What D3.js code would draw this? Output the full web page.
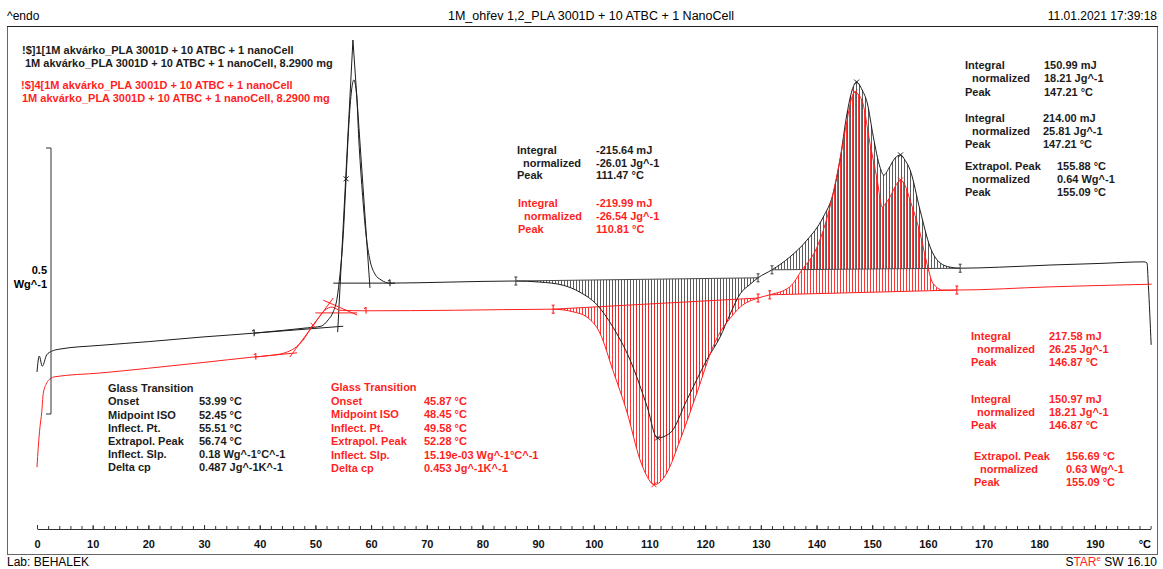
<!DOCTYPE html>
<html><head><meta charset="utf-8">
<script src="https://cdn.jsdelivr.net/npm/d3@7"></script>
<style>
body{margin:0;background:#fff;}
svg{display:block;font-family:"Liberation Sans",Arial,Helvetica,sans-serif;}
</style></head><body>
<svg id="chart" width="1163" height="569"></svg>
<script>
// ---- DSC heating run: temperature (°C) and normalized heat flow (W/g, endo up) ----
const tempBlack = [0.0,0.4,0.95,1.74,2.64,4.1,11.3,20,30,39,44,48.6,51.0,52.3,53.2,53.9,54.4,55.0,55.5,56.0,56.5,56.9,57.4,57.8,58.4,59.1,59.8,60.7,61.8,63.4,74.2,86.0,90.3,94.5,97.5,100.6,103.4,106.5,109.6,111.4,113.7,116.7,120.3,122.7,124.5,126.3,128.1,129.5,132.0,135.2,138.3,141.2,143.0,144.2,145.5,146.4,147.2,148.2,149.1,150.2,151.4,152.1,153.0,154.1,155.1,155.9,156.8,158.6,160.4,162.2,164.0,165.8,172.9,181.9,190.9,198.8,199.35,199.6,200.1];
const hfBlack = [0.079,0.109,0.090,0.111,0.118,0.122,0.129,0.136,0.145,0.152,0.157,0.162,0.165,0.177,0.192,0.218,0.261,0.336,0.440,0.543,0.609,0.628,0.600,0.515,0.421,0.336,0.289,0.263,0.252,0.246,0.248,0.250,0.248,0.242,0.229,0.205,0.164,0.102,0.013,-0.045,-0.036,0.026,0.102,0.145,0.188,0.226,0.244,0.256,0.271,0.295,0.327,0.370,0.415,0.477,0.566,0.609,0.624,0.609,0.585,0.521,0.464,0.449,0.462,0.481,0.487,0.477,0.459,0.383,0.314,0.284,0.276,0.274,0.276,0.280,0.283,0.286,0.284,0.242,0.130];

const tempRed = [0.0,0.23,0.54,0.84,1.13,1.74,2.33,3.23,11.3,20,30,38.8,41.8,44.5,46.3,47.8,49.0,50.5,51.7,53.0,54.4,59.1,75,92.7,96.3,98.8,101.1,103.4,106.0,108.3,109.6,110.8,111.9,113.1,115.5,118.5,121.4,122.7,124.5,126.3,129.5,131.6,135.2,137.4,140.1,142.4,144.2,145.5,146.2,146.9,147.6,148.3,149.6,150.9,151.8,152.5,153.2,154.1,155.1,155.9,156.8,158.6,159.8,160.9,162.7,165.2,181.9,200.2];
const hfRed = [-0.100,-0.062,-0.024,0.002,0.039,0.058,0.066,0.070,0.077,0.086,0.097,0.107,0.110,0.115,0.124,0.139,0.158,0.180,0.195,0.201,0.195,0.194,0.195,0.197,0.192,0.182,0.152,0.083,0.002,-0.086,-0.118,-0.133,-0.128,-0.111,-0.049,0.039,0.126,0.154,0.180,0.201,0.218,0.224,0.239,0.271,0.314,0.389,0.477,0.553,0.590,0.605,0.600,0.585,0.509,0.440,0.389,0.397,0.408,0.427,0.440,0.430,0.402,0.340,0.284,0.246,0.233,0.233,0.239,0.244];

// integration limits (°C)
const intBlack = [[86.0,129.5],[132.0,165.8]];
const intRed = [[92.7,129.5],[131.6,165.2]];
// evaluated peak temperatures (°C)
const peaksBlack = [111.47,147.21,155.09];
const peaksRed = [110.81,146.87,155.09];
// glass transition evaluation limits and inflection points (°C)
const tgLimitsBlack = [39.0,63.4];
const tgLimitsRed = [39.3,59.1];
const inflectBlack = 55.51, inflectRed = 49.58;
// glass transition construction lines [T1, v1, T2, v2]
const tgLinesBlack = [[39.0,0.152,55.0,0.165],[53.2,0.246,64.3,0.246],[54.0,0.154,56.74,0.703],[56.74,0.703,59.8,0.237]];
const tgLinesRed = [[39.0,0.107,46.7,0.115],[45.4,0.107,53.2,0.218],[51.4,0.214,57.5,0.186],[50.0,0.190,57.5,0.190]];

const xTickLabels = [0,10,20,30,40,50,60,70,80,90,100,110,120,130,140,150,160,170,180,190];
const xMinorTicks = d3.range(0,201,2);

// text content
const headerLeft = "^endo";
const headerTitle = "1M_ohřev 1,2_PLA 3001D + 10 ATBC + 1 NanoCell";
const headerDate = "11.01.2021 17:39:18";
const legendBlack = ["!$]1[1M akvárko_PLA 3001D + 10 ATBC + 1 nanoCell","1M akvárko_PLA 3001D + 10 ATBC + 1 nanoCell, 8.2900 mg"];
const legendRed = ["!$]4[1M akvárko_PLA 3001D + 10 ATBC + 1 nanoCell","1M akvárko_PLA 3001D + 10 ATBC + 1 nanoCell, 8.2900 mg"];
const intLabels = ["Integral","normalized","Peak"];
const extLabels = ["Extrapol. Peak","normalized","Peak"];
const crystBlackVals = ["-215.64 mJ","-26.01 Jg^-1","111.47 °C"];
const crystRedVals = ["-219.99 mJ","-26.54 Jg^-1","110.81 °C"];
const meltBlackVals1 = ["150.99 mJ","18.21 Jg^-1","147.21 °C"];
const meltBlackVals2 = ["214.00 mJ","25.81 Jg^-1","147.21 °C"];
const meltBlackExt = ["155.88 °C","0.64 Wg^-1","155.09 °C"];
const meltRedVals1 = ["217.58 mJ","26.25 Jg^-1","146.87 °C"];
const meltRedVals2 = ["150.97 mJ","18.21 Jg^-1","146.87 °C"];
const meltRedExt = ["156.69 °C","0.63 Wg^-1","155.09 °C"];
const gtLabels = ["Glass Transition","Onset","Midpoint ISO","Inflect. Pt.","Extrapol. Peak","Inflect. Slp.","Delta cp"];
const gtBlackVals = ["","53.99 °C","52.45 °C","55.51 °C","56.74 °C","0.18 Wg^-1°C^-1","0.487 Jg^-1K^-1"];
const gtRedVals = ["","45.87 °C","48.45 °C","49.58 °C","52.28 °C","15.19e-03 Wg^-1°C^-1","0.453 Jg^-1K^-1"];

// ---- drawing ----
const RED = "#ff1f1f", BLK = "#1c1c1c";
const svg = d3.select("#chart");
const x = d3.scaleLinear().domain([0,200]).range([37,1150.6]);
const y = d3.scaleLinear().domain([0,0.5]).range([414,148]);

// frame
svg.append("rect").attr("x",7.5).attr("y",26.5).attr("width",1150).attr("height",528)
  .attr("fill","none").attr("stroke","#666").attr("stroke-width",1);
svg.append("line").attr("x1",7).attr("x2",1158).attr("y1",26.5).attr("y2",26.5).attr("stroke","#222");

// header / footer
svg.append("text").attr("x",7).attr("y",20).attr("font-size",12).text(headerLeft);
svg.append("text").attr("x",591).attr("y",20).attr("font-size",12.5).attr("text-anchor","middle").text(headerTitle);
svg.append("text").attr("x",1157).attr("y",20).attr("font-size",12).attr("text-anchor","end").text(headerDate);
svg.append("text").attr("x",7).attr("y",566).attr("font-size",12).text("Lab: BEHALEK");
const star = svg.append("text").attr("x",1157).attr("y",566).attr("font-size",12).attr("text-anchor","end");
star.append("tspan").text("S");
star.append("tspan").attr("fill",RED).text("TAR");
star.append("tspan").attr("fill",RED).attr("font-size",8).attr("dy",-5).text("e");
star.append("tspan").attr("dy",5).text(" SW 16.10");

const gHatch = svg.append("g");
const gLines = svg.append("g");
const gCurves = svg.append("g");
const gMarks = svg.append("g");

const lineGen = d3.line().x(d=>x(d[0])).y(d=>y(d[1])).curve(d3.curveMonotoneX);

function drawCurve(T, V, color){
  const pts = T.map((t,i)=>[t,V[i]]);
  const p = gCurves.append("path").datum(pts).attr("d",lineGen)
    .attr("fill","none").attr("stroke",color).attr("stroke-width",1);
  const node = p.node(), L = node.getTotalLength(), s = [];
  for(let l=0;l<=L;l+=0.5){ const q=node.getPointAtLength(l); s.push({x:q.x,y:q.y}); }
  const bis = d3.bisector(d=>d.x).left;
  return px => {
    const i = bis(s,px);
    if(i<=0) return s[0].y;
    if(i>=s.length) return s[s.length-1].y;
    const a=s[i-1], b=s[i], t=(px-a.x)/((b.x-a.x)||1);
    return a.y+(b.y-a.y)*t;
  };
}
const yAtBlack = drawCurve(tempBlack,hfBlack,BLK);
const yAtRed = drawCurve(tempRed,hfRed,RED);

// vertical hatching between the curve and the straight integration baseline
function hatch(yAt, ranges, color, offset, width){
  ranges.forEach(([t1,t2])=>{
    const x1=x(t1), x2=x(t2), yb1=yAt(x1), yb2=yAt(x2);
    const start = Math.ceil(x1) + offset + 0.5;
    for(let px=start; px<x2; px+=3){
      const yb = yb1+(yb2-yb1)*(px-x1)/(x2-x1);
      gHatch.append("line").attr("x1",px).attr("x2",px).attr("y1",yb).attr("y2",yAt(px))
        .attr("stroke",color).attr("stroke-width",width);
    }
    gLines.append("line").attr("x1",x1).attr("x2",x2).attr("y1",yb1).attr("y2",yb2)
      .attr("stroke",color).attr("stroke-width",1);
    [[x1,yb1],[x2,yb2]].forEach(([mx,my])=>{
      const m = gMarks.append("g").attr("stroke",color).attr("stroke-width",1.1);
      m.append("line").attr("x1",mx).attr("x2",mx).attr("y1",my-4).attr("y2",my+4);
      m.append("line").attr("x1",mx-1.5).attr("x2",mx+1.5).attr("y1",my-4).attr("y2",my-4);
      m.append("line").attr("x1",mx-1.5).attr("x2",mx+1.5).attr("y1",my+4).attr("y2",my+4);
    });
  });
}
hatch(yAtBlack,intBlack,"#4a4a4a",0,0.9);
hatch(yAtRed,intRed,RED,1,0.9);

function cross(T, yAt, color){
  const px=x(T), py=yAt(px);
  gMarks.append("path").attr("d",`M${px-2.5},${py-2.5}L${px+2.5},${py+2.5}M${px-2.5},${py+2.5}L${px+2.5},${py-2.5}`)
    .attr("stroke",color).attr("stroke-width",1);
}
peaksBlack.forEach(t=>cross(t,yAtBlack,BLK));
peaksRed.forEach(t=>cross(t,yAtRed,RED));
cross(inflectBlack,yAtBlack,BLK);
cross(inflectRed,yAtRed,RED);

function tgMark(T, yAt, color){
  const px=x(T), py=yAt(px);
  const m = gMarks.append("g").attr("stroke",color).attr("stroke-width",1.1);
  m.append("line").attr("x1",px).attr("x2",px).attr("y1",py-3.5).attr("y2",py+3);
  m.append("line").attr("x1",px-2).attr("x2",px).attr("y1",py-2).attr("y2",py-3.5);
}
tgLimitsBlack.forEach(t=>tgMark(t,yAtBlack,BLK));
tgLimitsRed.forEach(t=>tgMark(t,yAtRed,RED));

tgLinesBlack.forEach(([t1,v1,t2,v2])=>gLines.append("line")
  .attr("x1",x(t1)).attr("y1",y(v1)).attr("x2",x(t2)).attr("y2",y(v2)).attr("stroke",BLK).attr("stroke-width",1));
tgLinesRed.forEach(([t1,v1,t2,v2])=>gLines.append("line")
  .attr("x1",x(t1)).attr("y1",y(v1)).attr("x2",x(t2)).attr("y2",y(v2)).attr("stroke",RED).attr("stroke-width",1));

// heat-flow scale bar
const sb = svg.append("g").attr("stroke","#333").attr("stroke-width",1);
sb.append("line").attr("x1",51).attr("x2",51).attr("y1",y(0.5)).attr("y2",y(0));
sb.append("line").attr("x1",46).attr("x2",51).attr("y1",y(0.5)).attr("y2",y(0.5));
sb.append("line").attr("x1",46).attr("x2",51).attr("y1",y(0)).attr("y2",y(0));
svg.append("text").attr("x",47).attr("y",274).attr("font-size",11).attr("font-weight","bold").attr("text-anchor","end").text("0.5");
svg.append("text").attr("x",47).attr("y",288).attr("font-size",11).attr("font-weight","bold").attr("text-anchor","end").text("Wg^-1");

// temperature axis
const axisY = 529;
svg.append("g").attr("transform",`translate(0,${axisY})`)
  .call(d3.axisBottom(x).tickValues(xMinorTicks).tickSizeInner(-3).tickSizeOuter(0).tickFormat(""))
  .call(g=>{g.selectAll("line,path").attr("stroke","#333");});
svg.append("g").attr("transform",`translate(0,${axisY})`)
  .call(d3.axisBottom(x).tickValues(xTickLabels).tickSizeInner(-4).tickSizeOuter(0).tickPadding(11))
  .call(g=>{g.select(".domain").remove(); g.selectAll("line").attr("stroke","#333");
    g.selectAll("text").attr("font-size",11).attr("font-weight","bold").attr("fill","#111")
      .attr("font-family",'"Liberation Sans",Arial,sans-serif');});
svg.append("text").attr("x",1151).attr("y",548).attr("font-size",11).attr("font-weight","bold").attr("text-anchor","end").text("°C");

// text blocks
function textBlock(lx, nx, vx, y0, dy, labels, values, color){
  labels.forEach((lab,i)=>{
    svg.append("text").attr("x", lab==="normalized"?nx:lx).attr("y",y0+i*dy)
      .attr("font-size",11).attr("font-weight","bold").attr("fill",color).text(lab);
    if(values[i]) svg.append("text").attr("x",vx).attr("y",y0+i*dy)
      .attr("font-size",11).attr("font-weight","bold").attr("fill",color).text(values[i]);
  });
}
legendBlack.forEach((t,i)=>svg.append("text").attr("x",i?25:22).attr("y",54+i*12.5)
  .attr("font-size",11).attr("font-weight","bold").attr("fill",BLK).text(t));
legendRed.forEach((t,i)=>svg.append("text").attr("x",i?22:21).attr("y",88.5+i*13.5)
  .attr("font-size",11).attr("font-weight","bold").attr("fill",RED).text(t));

textBlock(517,523,596,154,12.6,intLabels,crystBlackVals,BLK);
textBlock(518,524,596,207.3,13,intLabels,crystRedVals,RED);
textBlock(965,972,1044,69,13.3,intLabels,meltBlackVals1,BLK);
textBlock(965,972,1043,122.3,13,intLabels,meltBlackVals2,BLK);
textBlock(965,972,1057,169.7,13,extLabels,meltBlackExt,BLK);
textBlock(971,977,1049,339.7,13,intLabels,meltRedVals1,RED);
textBlock(971,977,1049,403.3,13,intLabels,meltRedVals2,RED);
textBlock(974,980,1066,459.7,13,extLabels,meltRedExt,RED);
textBlock(108,108,199,392.3,13.1,gtLabels,gtBlackVals,BLK);
textBlock(331,331,424,391,13.55,gtLabels,gtRedVals,RED);
</script>
</body></html>
